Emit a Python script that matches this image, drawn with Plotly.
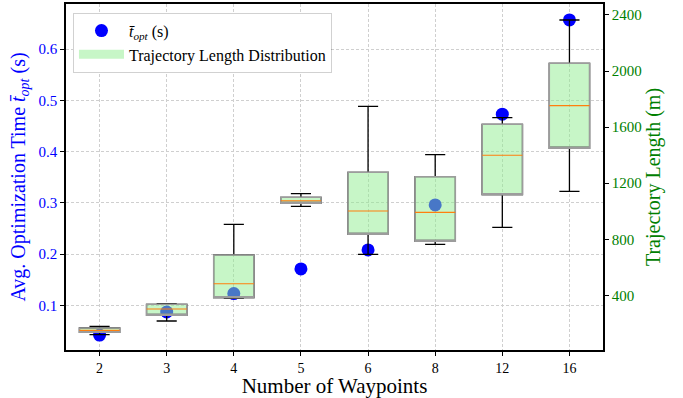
import plotly.graph_objects as go

# ---- data ----
waypoints = ["2", "3", "4", "5", "6", "8", "12", "16"]
t_opt = [0.042, 0.087, 0.123, 0.171, 0.208, 0.296, 0.473, 0.657]
len_lower = [119, 217, 379, 1035, 692, 764, 885, 1142]
len_q1 = [136, 257, 383, 1056, 835, 785, 1118, 1449]
len_median = [150, 302, 483, 1075, 1001, 992, 1399, 1753]
len_q3 = [167, 336, 688, 1099, 1277, 1246, 1620, 2055]
len_upper = [179, 340, 906, 1125, 1748, 1403, 1667, 2364]

FONT = "Liberation Serif"
BOX_FILL = "rgba(144,238,144,0.5)"
GRID = dict(showgrid=True, gridcolor="#cfcfcf", griddash="3px,2px", gridwidth=1)

fig = go.Figure()

# dots (left axis)
fig.add_trace(go.Scatter(
    x=waypoints, y=t_opt, mode="markers", yaxis="y",
    marker=dict(color="blue", size=13),
    name="<i>t̄</i><sub><i>opt</i></sub> (s)", hoverinfo="skip"))

# legend-only patch for the box plots
fig.add_trace(go.Scatter(
    x=[None], y=[None], mode="lines", yaxis="y2",
    line=dict(color=BOX_FILL, width=9),
    name="Trajectory Length Distribution"))

# whiskers + caps (black)
fig.add_trace(go.Box(
    x=waypoints, q1=len_q1, median=len_q1, q3=len_q3,
    lowerfence=len_lower, upperfence=len_upper,
    yaxis="y2", width=0.6, whiskerwidth=0.5,
    line=dict(color="black", width=1.3), fillcolor="rgba(0,0,0,0)",
    boxpoints=False, showlegend=False, hoverinfo="skip"))

# box body (green fill, gray edge)
fig.add_trace(go.Box(
    x=waypoints, q1=len_q1, median=len_q1, q3=len_q3,
    lowerfence=len_q1, upperfence=len_q3,
    yaxis="y2", width=0.6, whiskerwidth=1,
    line=dict(color="#9c9c9c", width=1.5), fillcolor=BOX_FILL,
    boxpoints=False, showlegend=False, hoverinfo="skip"))

# medians (orange)
fig.add_trace(go.Box(
    x=waypoints, q1=len_median, median=len_median, q3=len_median,
    lowerfence=len_median, upperfence=len_median,
    yaxis="y2", width=0.6, whiskerwidth=1,
    line=dict(color="#ff7f0e", width=1.1), fillcolor="rgba(0,0,0,0)",
    boxpoints=False, showlegend=False, hoverinfo="skip"))

fig.update_layout(
    width=683, height=398,
    margin=dict(l=66, r=80, t=4, b=48, autoexpand=False),
    paper_bgcolor="white", plot_bgcolor="white",
    font=dict(family=FONT, size=14, color="black"),
    boxmode="overlay",
    showlegend=True,
    legend=dict(x=0.013, y=0.975, xanchor="left", yanchor="top",
                bgcolor="white", bordercolor="rgba(0,0,0,0.18)", borderwidth=1,
                font=dict(family=FONT, size=16), tracegroupgap=0,
                itemwidth=45),
    xaxis=dict(
        type="category", range=[-0.5, 7.5], automargin=False,
        title=dict(text="Number of Waypoints", font=dict(size=21), standoff=4),
        showline=True, linecolor="black", linewidth=1.5, mirror=True,
        ticks="outside", ticklen=4, tickcolor="black",
        tickfont=dict(size=14), zeroline=False, **GRID),
    yaxis=dict(
        range=[0.0128, 0.688], automargin=False,
        tickvals=[0.1, 0.2, 0.3, 0.4, 0.5, 0.6],
        ticktext=["0.1", "0.2", "0.3", "0.4", "0.5", "0.6"],
        title=dict(text="Avg. Optimization Time <i>t̄</i><sub><i>opt</i></sub> (s)",
                   font=dict(size=20, color="blue"), standoff=8),
        tickfont=dict(size=15, color="blue"),
        showline=True, linecolor="black", linewidth=1.5,
        ticks="outside", ticklen=4, tickcolor="black",
        zeroline=False, **GRID),
    yaxis2=dict(
        overlaying="y", side="right", automargin=False,
        range=[10, 2478],
        tickvals=[400, 800, 1200, 1600, 2000, 2400],
        title=dict(text="Trajectory Length (m)",
                   font=dict(size=20, color="green"), standoff=5),
        tickfont=dict(size=15, color="green"),
        showline=True, linecolor="black", linewidth=1.5,
        ticks="outside", ticklen=4, tickcolor="black",
        showgrid=False, zeroline=False),
)

fig.write_html("out.html",
               config={"displayModeBar": False},
               post_script="document.body.style.margin='0';document.body.style.overflow='hidden';")
